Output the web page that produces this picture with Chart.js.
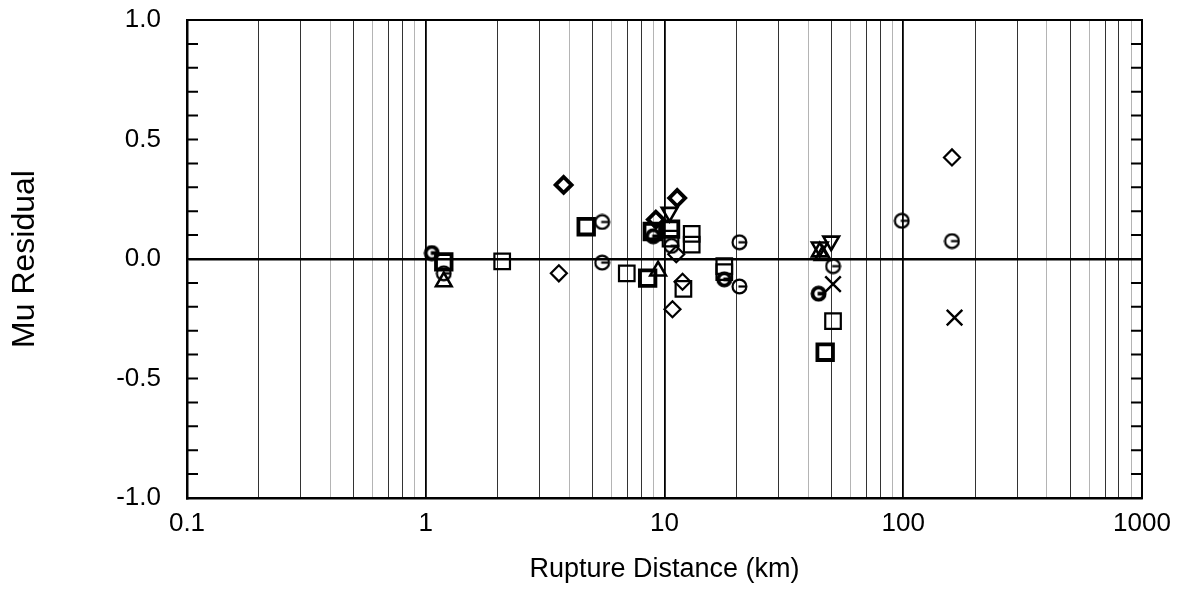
<!DOCTYPE html>
<html>
<head>
<meta charset="utf-8">
<script src="https://cdn.jsdelivr.net/npm/chart.js@4.4.0/dist/chart.umd.min.js"></script>
<style>
  html, body { margin: 0; padding: 0; background: #fff; }
  #wrap { width: 1198px; height: 601px; }
</style>
</head>
<body>
<div id="wrap"><canvas id="chart"></canvas></div>
<script>
// Values: rupture distance (km) and mu residual
const thinCircleX = [1.19, 5.48, 5.48, 10.7, 20.6, 20.6, 50.8, 98.6, 160];
const thinCircleY = [-0.06, 0.155, -0.015, 0.055, 0.07, -0.115, -0.03, 0.16, 0.075];

const boldCircleX = [1.06, 8.97, 17.8, 44.2];
const boldCircleY = [0.025, 0.095, -0.085, -0.145];

const thinDiamondX = [3.61, 10.8, 11.2, 11.9, 160];
const thinDiamondY = [-0.06, -0.21, 0.02, -0.095, 0.425];

const boldDiamondX = [3.78, 9.2, 11.3];
const boldDiamondY = [0.31, 0.165, 0.255];

const thinSquareX = [2.09, 6.95, 12.0, 13.0, 13.0, 10.6, 17.8, 17.8, 50.8];
const thinSquareY = [-0.01, -0.06, -0.125, 0.105, 0.06, 0.085, -0.03, -0.055, -0.26];

const boldSquareX = [1.19, 4.7, 8.5, 8.89, 10.6, 47.1];
const boldSquareY = [-0.012, 0.135, -0.08, 0.115, 0.125, -0.39];

const triUpX = [1.19, 9.4, 44.7, 46];
const triUpY = [-0.095, -0.05, 0.03, 0.015];

const triDownX = [10.5, 49.9, 44.7];
const triDownY = [0.195, 0.075, 0.05];

const crossX = [50.8, 164];
const crossY = [-0.105, -0.245];

// axis ticks
const xDecades = [0.1, 1, 10, 100];
const xMultipliers = [1, 2, 3, 4, 5, 6, 7, 8, 9];
const xTickLabels = ['0.1', '1', '10', '100', '1000'];
const yTicks = [-1, -0.9, -0.8, -0.7, -0.6, -0.5, -0.4, -0.3, -0.2, -0.1, 0,
                0.1, 0.2, 0.3, 0.4, 0.5, 0.6, 0.7, 0.8, 0.9, 1];

const xTicks = [];
xDecades.forEach(d => xMultipliers.forEach(m => xTicks.push(+(d * m).toPrecision(3))));
xTicks.push(1000);

const pts = (xs, ys) => xs.map((x, i) => ({ x: x, y: ys[i] }));

// circle with a short bar, like the plotted "theta" marks
function thetaMark(size, lw) {
  const c = document.createElement('canvas');
  c.width = c.height = size;
  const g = c.getContext('2d');
  g.strokeStyle = '#000';
  g.lineWidth = lw;
  g.beginPath();
  g.arc(size / 2, size / 2, size / 2 - lw / 2 - 0.5, 0, Math.PI * 2);
  g.stroke();
  g.beginPath();
  g.moveTo(size / 2 - 1, size / 2);
  g.lineTo(size - lw, size / 2);
  g.stroke();
  return c;
}

function mult(v) {
  const p = Math.pow(10, Math.floor(Math.log10(v) + 1e-9));
  return Math.round(v / p);
}

const frame = {
  id: 'frame',
  afterDraw(chart) {
    const { ctx, chartArea: a, scales } = chart;
    ctx.save();
    ctx.strokeStyle = '#000';
    ctx.lineWidth = 2;
    ctx.strokeRect(a.left, a.top, a.right - a.left, a.bottom - a.top);
    ctx.beginPath();
    scales.y.ticks.forEach(t => {
      const py = scales.y.getPixelForValue(t.value);
      ctx.moveTo(a.left, py); ctx.lineTo(a.left + 11, py);
      ctx.moveTo(a.right, py); ctx.lineTo(a.right - 11, py);
    });
    ctx.stroke();
    ctx.restore();
  }
};

Chart.defaults.font.family = '"Liberation Sans", Arial, Helvetica, sans-serif';
Chart.defaults.color = '#000';

const hollow = 'rgba(0,0,0,0)';

new Chart(document.getElementById('chart'), {
  type: 'scatter',
  data: {
    datasets: [
      { label: 'circle', data: pts(thinCircleX, thinCircleY), pointStyle: thetaMark(17, 2.2), pointRadius: 8 },
      { label: 'circle bold', data: pts(boldCircleX, boldCircleY), pointStyle: thetaMark(17, 3.8), pointRadius: 8 },
      { label: 'diamond', data: pts(thinDiamondX, thinDiamondY), pointStyle: 'rectRot', pointRadius: 8,
        borderColor: '#000', backgroundColor: hollow, borderWidth: 2.2 },
      { label: 'diamond bold', data: pts(boldDiamondX, boldDiamondY), pointStyle: 'rectRot', pointRadius: 8,
        borderColor: '#000', backgroundColor: hollow, borderWidth: 3.8 },
      { label: 'square', data: pts(thinSquareX, thinSquareY), pointStyle: 'rect', pointRadius: 11,
        borderColor: '#000', backgroundColor: hollow, borderWidth: 2.2 },
      { label: 'square bold', data: pts(boldSquareX, boldSquareY), pointStyle: 'rect', pointRadius: 11,
        borderColor: '#000', backgroundColor: hollow, borderWidth: 3.8 },
      { label: 'triangle', data: pts(triUpX, triUpY), pointStyle: 'triangle', pointRadius: 9,
        borderColor: '#000', backgroundColor: hollow, borderWidth: 2.6 },
      { label: 'triangle down', data: pts(triDownX, triDownY), pointStyle: 'triangle', rotation: 180, pointRadius: 9,
        borderColor: '#000', backgroundColor: hollow, borderWidth: 2.6 },
      { label: 'cross', data: pts(crossX, crossY), pointStyle: 'crossRot', pointRadius: 11,
        borderColor: '#000', borderWidth: 2.4 }
    ]
  },
  options: {
    responsive: true,
    maintainAspectRatio: false,
    animation: false,
    layout: { padding: { left: 0, right: 56, top: 20, bottom: 0 } },
    plugins: { legend: { display: false }, tooltip: { enabled: false } },
    scales: {
      x: {
        type: 'logarithmic',
        min: 0.1,
        max: 1000,
        afterBuildTicks: s => { s.ticks = xTicks.map(v => ({ value: v })); },
        afterFit: s => { s.height = 103; },
        ticks: {
          autoSkip: false,
          maxRotation: 0,
          padding: 10,
          font: { size: 26 },
          callback: v => {
            const i = [0.1, 1, 10, 100, 1000].indexOf(+(+v).toPrecision(3));
            return i >= 0 ? xTickLabels[i] : '';
          }
        },
        grid: {
          drawTicks: false,
          color: c => {
            const m = mult(c.tick.value);
            if (m === 1) return '#000';
            return [4, 6, 9].includes(m) ? '#b4b4b4' : '#333';
          },
          lineWidth: c => (mult(c.tick.value) === 1 ? 1.8 : 1)
        },
        border: { display: true, color: '#000', width: 2.5 },
        title: { display: true, text: 'Rupture Distance (km)', font: { size: 27 }, padding: { top: 0, bottom: 15 } }
      },
      y: {
        min: -1,
        max: 1,
        afterBuildTicks: s => { s.ticks = yTicks.map(v => ({ value: v })); },
        afterFit: s => { s.width = 187; s.paddingTop = 0; s.paddingBottom = 0; },
        ticks: {
          autoSkip: false,
          padding: 26,
          font: { size: 26 },
          callback: v => (Math.abs(v * 2 - Math.round(v * 2)) < 1e-6 ? (+v).toFixed(1) : '')
        },
        grid: {
          drawTicks: false,
          color: c => (Math.abs(c.tick.value) < 1e-6 ? '#000' : 'rgba(0,0,0,0)'),
          lineWidth: 2.5
        },
        border: { display: true, color: '#000', width: 2.5 },
        title: { display: true, text: 'Mu Residual', font: { size: 32 }, padding: { top: 6, bottom: 0 } }
      }
    }
  },
  plugins: [frame]
});
</script>
</body>
</html>
